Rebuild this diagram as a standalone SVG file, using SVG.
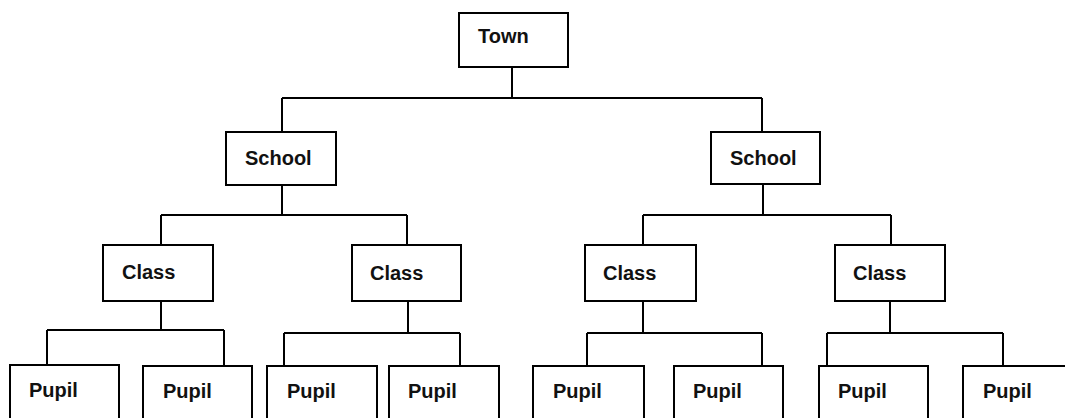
<svg xmlns="http://www.w3.org/2000/svg" width="1065" height="418" viewBox="0 0 1065 418">
<style>
.box{fill:#fff;stroke:#000;stroke-width:2}
.lbl{font-family:"Liberation Sans",Arial,sans-serif;font-weight:bold;font-size:20px;fill:#111}
.conn{fill:none;stroke:#000;stroke-width:2}
</style>
<rect width="1065" height="418" fill="#fff"/>
<g id="connectors" class="conn">
<path d="M512 67V98M282 98H762M282 98V132M762 98V132"/>
<path d="M282 185V215M161 215H407M161 215V245M407 215V245"/>
<path d="M763 184V215M643 215H891M643 215V245M891 215V245"/>
<path d="M161 301V330M47 330H224M47 330V365M224 330V366"/>
<path d="M408 301V333M284 333H460M284 333V366M460 333V366"/>
<path d="M643 301V333M587 333H762M587 333V366M762 333V366"/>
<path d="M890 301V333M827 333H1003M827 333V366M1003 333V366"/>
</g>
<g id="town"><rect class="box" x="459" y="13" width="109" height="54"/><text class="lbl" x="478" y="43">Town</text></g>
<g id="school1"><rect class="box" x="226" y="132" width="110" height="53"/><text class="lbl" x="245" y="165">School</text></g>
<g id="school2"><rect class="box" x="711" y="132" width="109" height="52"/><text class="lbl" x="730" y="165">School</text></g>
<g id="class1"><rect class="box" x="103" y="245" width="110" height="56"/><text class="lbl" x="122" y="279">Class</text></g>
<g id="class2"><rect class="box" x="352" y="245" width="109" height="56"/><text class="lbl" x="370" y="280">Class</text></g>
<g id="class3"><rect class="box" x="585" y="245" width="111" height="56"/><text class="lbl" x="603" y="280">Class</text></g>
<g id="class4"><rect class="box" x="835" y="245" width="110" height="56"/><text class="lbl" x="853" y="280">Class</text></g>
<g id="pupil1"><rect class="box" x="10" y="365" width="109" height="70"/><text class="lbl" x="29" y="397">Pupil</text></g>
<g id="pupil2"><rect class="box" x="143" y="366" width="109" height="70"/><text class="lbl" x="163" y="398">Pupil</text></g>
<g id="pupil3"><rect class="box" x="267" y="366" width="110" height="70"/><text class="lbl" x="287" y="398">Pupil</text></g>
<g id="pupil4"><rect class="box" x="389" y="366" width="110" height="70"/><text class="lbl" x="408" y="398">Pupil</text></g>
<g id="pupil5"><rect class="box" x="533" y="366" width="111" height="70"/><text class="lbl" x="553" y="398">Pupil</text></g>
<g id="pupil6"><rect class="box" x="674" y="366" width="109" height="70"/><text class="lbl" x="693" y="398">Pupil</text></g>
<g id="pupil7"><rect class="box" x="819" y="366" width="109" height="70"/><text class="lbl" x="838" y="398">Pupil</text></g>
<g id="pupil8"><rect class="box" x="963" y="366" width="120" height="70"/><text class="lbl" x="983" y="398">Pupil</text></g>
</svg>
